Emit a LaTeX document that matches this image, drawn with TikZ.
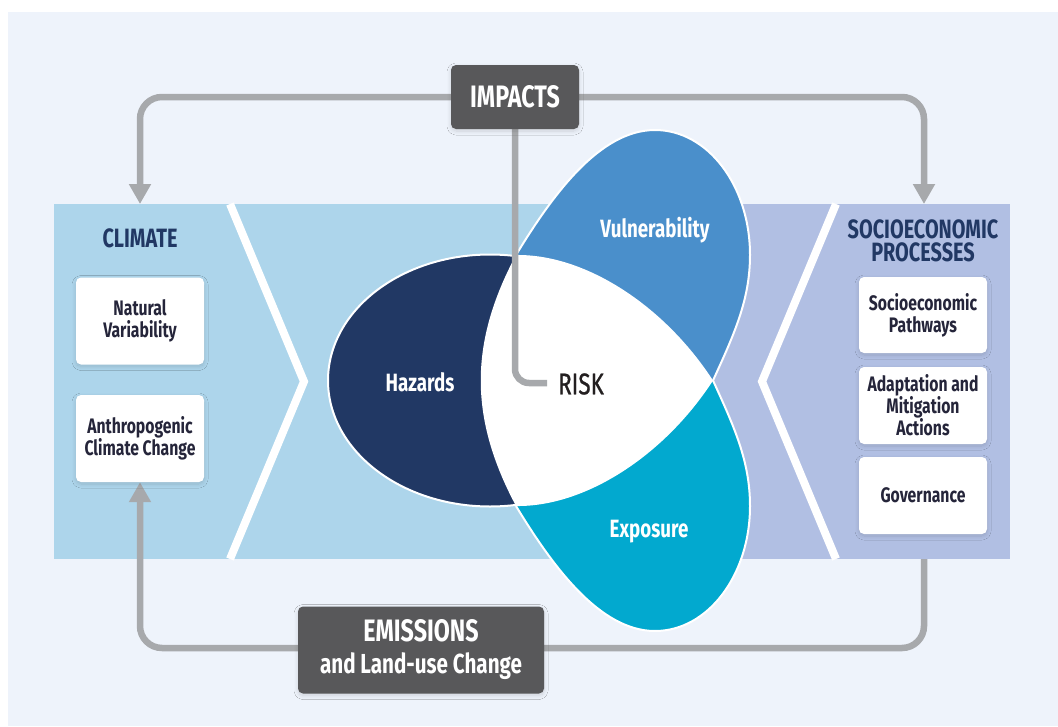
\documentclass[tikz,border=0pt]{standalone}
\usepackage{fontspec}
\setmainfont{Fira Sans}[FakeStretch=0.75]
\newfontfamily\riskfont{Fira Sans}[FakeStretch=0.75, FakeBold=0.8]
\usetikzlibrary{arrows.meta,shadows.blur}
\definecolor{pagebg}{HTML}{EEF3FB}
\definecolor{bandblue}{HTML}{ADD5EB}
\definecolor{bandlav}{HTML}{B1BFE3}
\definecolor{hazc}{HTML}{213864}
\definecolor{vulc}{HTML}{4A8FCB}
\definecolor{expc}{HTML}{02A9CF}
\definecolor{connc}{HTML}{A7A9AC}
\definecolor{darkbox}{HTML}{58585A}
\definecolor{navytxt}{HTML}{213864}
\definecolor{boxtxt}{HTML}{25253A}
\definecolor{risktxt}{HTML}{231F20}
\pgfdeclarelayer{back}
\pgfdeclarelayer{mid}
\pgfsetlayers{back,mid,main}
\begin{document}
\begin{tikzpicture}[x=1pt,y=-1pt,
  softshadow/.style={blur shadow={shadow xshift=0pt, shadow yshift=-2pt, shadow blur radius=4pt, shadow blur steps=10, shadow opacity=14}},
  whitebox/.style={fill=white, rounded corners=5pt, minimum width=128pt, text=boxtxt,
    font=\bfseries\fontsize{21}{22}\selectfont, align=center, inner sep=0pt, softshadow},
  darkbox/.style={fill=darkbox, rounded corners=5pt, text=white, align=center, inner sep=0pt, softshadow},
  heading/.style={text=navytxt, font=\bfseries\fontsize{26.5}{23}\selectfont, align=center, inner sep=0pt},
  petallabel/.style={text=white, font=\bfseries\fontsize{25}{26}\selectfont, inner sep=0pt},
  conn/.style={draw=connc, line width=6.5pt, rounded corners=22pt},
  connarrow/.style={conn, -{Triangle[width=21pt,length=20pt]}},
  chevron/.style={draw=white, line width=8pt, line join=miter}
]
\useasboundingbox (0,0) rectangle (1058,726);

% ---------- nodes ----------
\node[darkbox, minimum width=128pt, minimum height=64pt, font=\bfseries\fontsize{31}{32}\selectfont] (impacts) at (515,97) {IMPACTS};
\node[darkbox, minimum width=246pt, minimum height=87pt, font=\bfseries\fontsize{27.5}{32}\selectfont] (emis) at (421,650)
  {{\fontsize{31}{32}\selectfont EMISSIONS}\\and Land-use Change};

\node[heading] (climate) at (140,238) {CLIMATE};
\node[whitebox, minimum height=87pt] (natural) at (140,321) {Natural\\Variability};
\node[whitebox, minimum height=87pt] (anthro) at (140,438.5) {Anthropogenic\\Climate Change};

\node[heading] (socio) at (923,241) {SOCIOECONOMIC\\PROCESSES};
\node[whitebox, minimum height=76pt] (socpath) at (923,315) {Socioeconomic\\Pathways};
\node[whitebox, minimum height=77pt] (adapt) at (923,405.5) {Adaptation and\\Mitigation\\Actions};
\node[whitebox, minimum height=77pt] (govern) at (923,495.5) {Governance};

\node[petallabel] (haz) at (420,382) {Hazards};
\node[petallabel] (vul) at (655,230) {Vulnerability};
\node[petallabel] (exp) at (649,532) {Exposure};
\node[text=risktxt, font=\riskfont\fontsize{30}{31}\selectfont, inner sep=0pt] (risk) at (581,384) {RISK};

\coordinate (climin) at (140,204);
\coordinate (socin) at (924,204);
\coordinate (sociobot) at (924,559);
\coordinate (emisln) at (421,648);
\coordinate (riskend) at (547,383);

% ---------- background ----------
\begin{pgfonlayer}{back}
  \fill[white] (0,0) rectangle (1058,726);
  \fill[pagebg] (8,12) rectangle (1058,726);
  \fill[bandblue] (54,204) rectangle (705,559);
  \fill[bandlav] (705,204) rectangle (1010,559);
  \draw[chevron] (230,204) -- (304,381.5) -- (230,559);
  \draw[chevron] (836,204) -- (762,381.5) -- (836,559);
  % hazards
  \fill[hazc] (490,380.5) ellipse [x radius=162, y radius=126];
  \draw[white, line width=2pt] (490,380.5) ellipse [x radius=162, y radius=126];
  % vulnerability
  \fill[vulc] (516,255) .. controls (553,194) and (600,130) .. (655,130)
     .. controls (708,130) and (750,186) .. (750,255)
     .. controls (750,300) and (734,334.5) .. (713,380.5) -- cycle;
  \draw[white, line width=2pt] (516,255) .. controls (553,194) and (600,130) .. (655,130)
     .. controls (708,130) and (750,186) .. (750,255)
     .. controls (750,300) and (734,334.5) .. (713,380.5);
  % exposure
  \fill[expc] (516,506) .. controls (553,567) and (600,631) .. (655,631)
     .. controls (708,631) and (750,575) .. (750,506)
     .. controls (750,461) and (734,426.5) .. (713,380.5) -- cycle;
  \draw[white, line width=2pt] (516,506) .. controls (553,567) and (600,631) .. (655,631)
     .. controls (708,631) and (750,575) .. (750,506)
     .. controls (750,461) and (734,426.5) .. (713,380.5);
  % risk centre
  \fill[white] (516,255) .. controls (585,254) and (664,305) .. (713,380.5)
     .. controls (664,456) and (585,507) .. (516,506)
     .. controls (469,418) and (469,343) .. (516,255) -- cycle;
\end{pgfonlayer}

% ---------- connectors ----------
\begin{pgfonlayer}{mid}
  \draw[connarrow] (impacts.west) -| (climin);
  \draw[connarrow] (impacts.east) -| (socin);
  \draw[conn, rounded corners=14pt] (impacts.south) |- (riskend);
  \draw[connarrow] (sociobot) |- (emisln) -| (anthro.south);
\end{pgfonlayer}
\end{tikzpicture}
\end{document}
